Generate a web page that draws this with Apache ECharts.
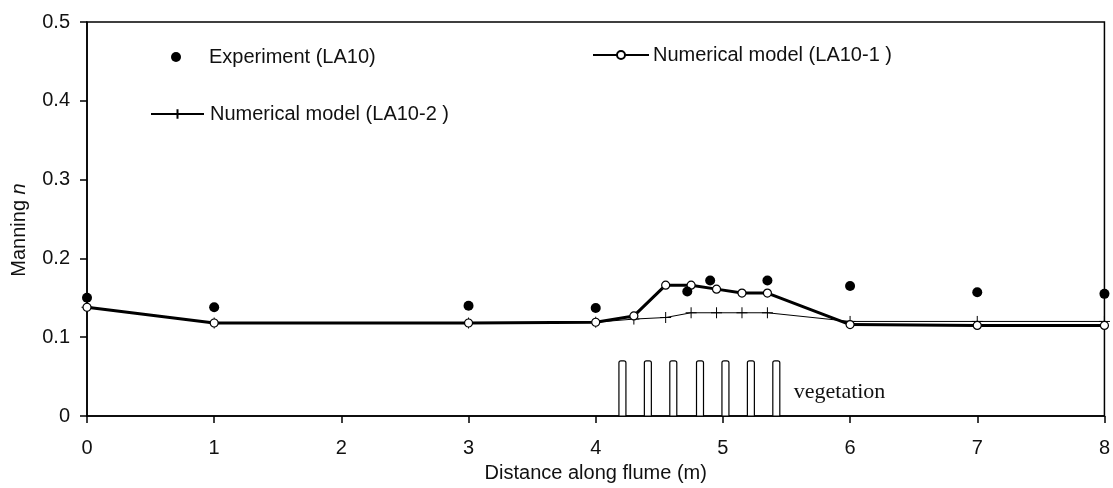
<!DOCTYPE html>
<html>
<head>
<meta charset="utf-8">
<script src="https://cdn.jsdelivr.net/npm/echarts@6/dist/echarts.min.js"></script>
<style>
html,body{margin:0;padding:0;background:#fff;}
#chart{width:1113px;height:488px;}
</style>
</head>
<body>
<div id="chart"></div>
<script>
// ---- data ----
const xTicks = [0, 1, 2, 3, 4, 5, 6, 7, 8];
const yTicks = [0, 0.1, 0.2, 0.3, 0.4, 0.5];

const expX = [0, 1, 3, 4, 4.72, 4.9, 5.35, 6, 7, 8];
const expY = [0.150, 0.138, 0.140, 0.137, 0.158, 0.172, 0.172, 0.165, 0.157, 0.155];

const modelX = [0, 1, 3, 4, 4.3, 4.55, 4.75, 4.95, 5.15, 5.35, 6, 7, 8];
const model1Y = [0.138, 0.118, 0.118, 0.119, 0.127, 0.166, 0.166, 0.161, 0.156, 0.156, 0.116, 0.115, 0.115];
const model2Y = [0.138, 0.118, 0.118, 0.119, 0.123, 0.125, 0.131, 0.131, 0.131, 0.131, 0.120, 0.120, 0.120];

const vegCenters = [4.21, 4.41, 4.61, 4.82, 5.02, 5.22, 5.42];
const vegWidth = 0.055;
const vegHeight = 0.07;
const vegLabel = ['vegetation', 5.557, 0.0305];

const names = ['Experiment (LA10)', 'Numerical model (LA10-1 )', 'Numerical model (LA10-2 )'];

// ---- chart ----
const FONT = "'Liberation Sans', Arial, sans-serif";
const zip = (xs, ys) => xs.map((x, i) => [x, ys[i]]);
const plusPath = 'path://M5,0 L5,10 M0,5 L10,5';

const chart = echarts.init(document.getElementById('chart'), null, {renderer: 'canvas'});

const option = {
  animation: false,
  backgroundColor: '#fff',
  textStyle: {fontFamily: FONT},
  grid: {left: 87, right: 6, top: 22, bottom: 72, show: true, borderColor: '#000', borderWidth: 1.5, backgroundColor: 'transparent'},
  legend: [
    {data: [names[0]], left: 171, top: 47, padding: 0, itemWidth: 10, itemHeight: 10,
     textStyle: {fontSize: 20, color: '#111', fontFamily: FONT, padding: [0, 0, 0, 23]}, selectedMode: false},
    {data: [names[1]], left: 592, top: 45, padding: 0, itemWidth: 56, itemHeight: 10,
     textStyle: {fontSize: 20, color: '#111', fontFamily: FONT, padding: [0, 0, 0, -1]}, selectedMode: false},
    {data: [names[2]], left: 150, top: 104, padding: 0, itemWidth: 53, itemHeight: 12,
     textStyle: {fontSize: 20, color: '#111', fontFamily: FONT, padding: [0, 0, 0, 1]}, selectedMode: false}
  ],
  xAxis: {
    type: 'value', min: xTicks[0], max: xTicks[xTicks.length - 1], interval: 1,
    name: 'Distance along flume (m)', nameLocation: 'middle', nameGap: 47,
    nameTextStyle: {fontSize: 20, color: '#111', fontFamily: FONT},
    axisLine: {onZero: false, lineStyle: {color: '#000', width: 1.5}},
    axisTick: {inside: false, length: 7, lineStyle: {color: '#000', width: 1.5}},
    axisLabel: {fontSize: 20, color: '#111', margin: 22, fontFamily: FONT},
    splitLine: {show: false}
  },
  yAxis: {
    type: 'value', min: yTicks[0], max: yTicks[yTicks.length - 1], interval: 0.1,
    name: 'Manning {i|n}', nameLocation: 'middle', nameGap: 58,
    nameTextStyle: {fontSize: 20, color: '#111', fontFamily: FONT, padding: [0, 22, 0, 0],
      rich: {i: {fontStyle: 'italic', fontSize: 20, fontFamily: FONT, color: '#111'}}},
    axisLine: {onZero: false, lineStyle: {color: '#000', width: 1.5}},
    axisTick: {inside: false, length: 7, lineStyle: {color: '#000', width: 1.5}},
    axisLabel: {fontSize: 20, color: '#111', margin: 17, fontFamily: FONT,
      formatter: v => (v === 0 ? '0' : v.toFixed(1))},
    splitLine: {show: false}
  },
  series: [
    {
      name: 'vegetation-rects', type: 'custom', silent: true, z: 1,
      data: vegCenters.map(c => [c]),
      renderItem: (params, api) => {
        const c = api.value(0);
        const p0 = api.coord([c - vegWidth / 2, vegHeight]);
        const p1 = api.coord([c + vegWidth / 2, 0]);
        return {
          type: 'rect',
          shape: {x: p0[0], y: p0[1], width: p1[0] - p0[0], height: p1[1] - p0[1], r: [2, 2, 0, 0]},
          style: {fill: '#fff', stroke: '#000', lineWidth: 1.2}
        };
      }
    },
    {
      name: 'vegetation-label', type: 'custom', silent: true, z: 1,
      data: [[vegLabel[1], vegLabel[2]]],
      renderItem: (params, api) => {
        const p = api.coord([api.value(0), api.value(1)]);
        return {
          type: 'text',
          style: {text: vegLabel[0], x: p[0], y: p[1], fill: '#111',
            font: "22px 'Liberation Serif', 'Times New Roman', serif",
            textAlign: 'left', textVerticalAlign: 'middle'}
        };
      }
    },
    {
      name: names[2], type: 'line', z: 2,
      data: zip(modelX, model2Y),
      symbol: plusPath, symbolSize: 11, showSymbol: true,
      lineStyle: {color: '#000', width: 1},
      itemStyle: {color: '#000', borderColor: '#000', borderWidth: 1}
    },
    {
      name: names[1], type: 'line', z: 3,
      data: zip(modelX, model1Y),
      symbol: 'circle', symbolSize: 8, showSymbol: true,
      lineStyle: {color: '#000', width: 3},
      itemStyle: {color: '#fff', borderColor: '#000', borderWidth: 1.2}
    },
    {
      name: names[0], type: 'scatter', z: 4,
      data: zip(expX, expY),
      symbol: 'circle', symbolSize: 10,
      itemStyle: {color: '#000', opacity: 1}
    }
  ]
};
chart.setOption(option);
</script>
</body>
</html>
